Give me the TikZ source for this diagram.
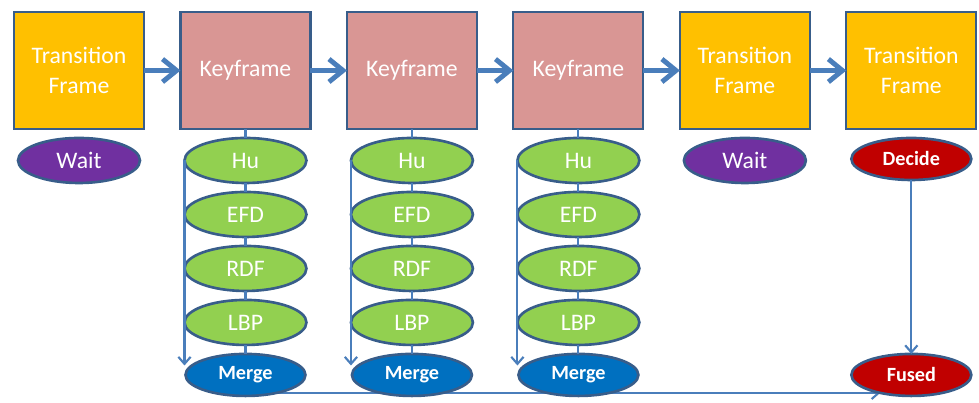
\documentclass[tikz,border=0pt]{standalone}
\usepackage{fontspec}
\setmainfont{Carlito}
\usetikzlibrary{positioning,shapes.geometric,arrows.meta,backgrounds}
\definecolor{edgeblue}{HTML}{385D8A}
\definecolor{linkblue}{HTML}{4A7EBB}
\definecolor{transfill}{HTML}{FFC000}
\definecolor{keyfill}{HTML}{D99694}
\definecolor{featfill}{HTML}{92D050}
\definecolor{waitfill}{HTML}{7030A0}
\definecolor{mergefill}{HTML}{0070C0}
\definecolor{resultfill}{HTML}{C00000}

\begin{document}
\begin{tikzpicture}[
  x=0.02cm, y=-0.02cm,
  node distance=0.18cm and 0.73cm,
  stagebox/.style={rectangle, draw=edgeblue, line width=1.2pt, outer sep=0pt,
    minimum width=2.6cm, minimum height=2.34cm, text=white, align=center,
    font=\fontsize{13.5}{17}\selectfont},
  transbox/.style={stagebox, fill=transfill},
  keybox/.style={stagebox, fill=keyfill},
  ovalnode/.style={ellipse, draw=edgeblue, line width=1.5pt, inner sep=0pt,
    outer sep=0pt, minimum width=2.44cm, minimum height=0.9cm, text=white,
    font=\fontsize{13.5}{15}\selectfont},
  featnode/.style={ovalnode, fill=featfill},
  waitnode/.style={ovalnode, fill=waitfill},
  mergenode/.style={ovalnode, fill=mergefill, minimum width=2.4cm,
    minimum height=0.84cm, font=\bfseries\fontsize{11.5}{13}\selectfont},
  resultnode/.style={mergenode, fill=resultfill},
  thinline/.style={draw=linkblue, line width=1.2pt},
  flowarrow/.style={thinline, line width=2.8pt,
    -{Straight Barb[length=8pt,width=13pt]}},
  downarrow/.style={thinline, -{Straight Barb[length=4pt,width=7pt]}}
]
  \useasboundingbox (0,0) rectangle (979,402);

  % top row of frames
  \node[transbox] (t1) at (79,70.5) {Transition\\Frame};
  \node[keybox, right=of t1] (k1) {Keyframe};
  \node[keybox, right=of k1] (k2) {Keyframe};
  \node[keybox, right=of k2] (k3) {Keyframe};
  \node[transbox, right=of k3] (t2) {Transition\\Frame};
  \node[transbox, right=of t2] (t3) {Transition\\Frame};
  \foreach \a/\b in {t1/k1,k1/k2,k2/k3,k3/t2,t2/t3}
    \draw[flowarrow] (\a) -- (\b);

  \node[waitnode, below=of t1] (w1) {Wait};
  \node[waitnode, below=of t2] (w2) {Wait};
  \node[resultnode, below=of t3] (d) {Decide};

  % feature columns under each keyframe
  \foreach \k in {1,2,3} {
    \node[featnode, below=of k\k] (hu\k) {Hu};
    \node[featnode, below=of hu\k] (efd\k) {EFD};
    \node[featnode, below=of efd\k] (rdf\k) {RDF};
    \node[featnode, below=of rdf\k] (lbp\k) {LBP};
    \node[mergenode, below=of lbp\k] (m\k) {Merge};
    \draw[thinline] (k\k) -- (hu\k) -- (efd\k) -- (rdf\k) -- (lbp\k) -- (m\k);
    \draw[downarrow] (hu\k.west) -- (hu\k.west |- m\k.170);
  }

  \node[resultnode] (f) at (d |- m1) {Fused};
  \draw[downarrow] (d) -- (f);
  \begin{scope}[on background layer]
    \draw[downarrow] (m1.-30) -- (f.-150);
  \end{scope}
\end{tikzpicture}
\end{document}
